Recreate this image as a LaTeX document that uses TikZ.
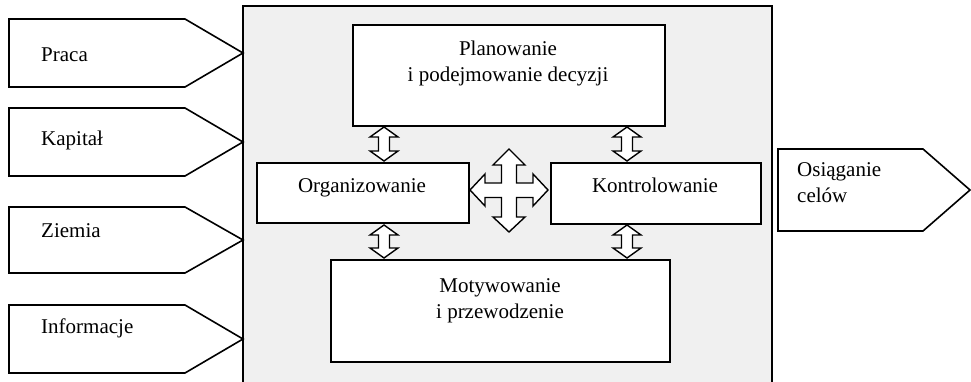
\documentclass[tikz,border=0pt]{standalone}
\usepackage{fontspec}
\setmainfont{Liberation Serif}
\definecolor{panel}{HTML}{F0F0F0}
\begin{document}
\begin{tikzpicture}[x=1pt,y=-1pt,
  line join=miter,
  box/.style={draw=black,line width=1.6pt,fill=white},
  lbl/.style={inner sep=0pt,font=\fontsize{21}{26}\selectfont},
  dbl/.style={draw=black,line width=1.4pt,fill=white,line join=miter}]
\useasboundingbox (0,0) rectangle (971,382);
% main panel
\fill[panel] (243,6) rectangle (772,382);
\draw[line width=1.6pt] (243,383) -- (243,6) -- (772,6) -- (772,383);
% input pentagons
\foreach \t/\b in {19/87,108/176,207/273,305/373}{
  \draw[box] (9,\t) -- (185,\t) -- (243,{(\t+\b)/2}) -- (185,\b) -- (9,\b) -- cycle;
}
\node[lbl,anchor=base west] (praca) at (41,62) {Praca};
\node[lbl,anchor=base west] (kapital) at (41,146) {Kapitał};
\node[lbl,anchor=base west] (ziemia) at (41,237) {Ziemia};
\node[lbl,anchor=base west] (info) at (41,333) {Informacje};
% output pentagon
\draw[box] (778,149) -- (923,149) -- (970,190) -- (923,231) -- (778,231) -- cycle;
\node[lbl,anchor=base west,align=left] (cel) at (797,203) {Osiąganie\\celów};
% inner boxes
\node[box,minimum width=312,minimum height=101,anchor=north west,inner sep=0pt] (plan) at (352,24) {};
\node[box,minimum width=212,minimum height=60,anchor=north west,inner sep=0pt] (org) at (256,162) {};
\node[box,minimum width=210,minimum height=61,anchor=north west,inner sep=0pt] (kon) at (550,162) {};
\node[box,minimum width=339,minimum height=102,anchor=north west,inner sep=0pt] (mot) at (330,259) {};
\node[lbl,anchor=base,align=center] (plant) at (508,82) {Planowanie\\i podejmowanie decyzji};
\node[lbl,anchor=base] (orgt) at (362,193) {Organizowanie};
\node[lbl,anchor=base] (kont) at (655,193) {Kontrolowanie};
\node[lbl,anchor=base,align=center] (mott) at (500,318) {Motywowanie\\i przewodzenie};
% vertical double arrows
\newcommand\vdarrow[3]{%
  \draw[dbl] (#1,#2) -- ++(14,10) -- ++(-8.5,0) -- (#1+5.5,#3-10) -- ++(8.5,0) -- (#1,#3)
     -- ++(-14,-10) -- ++(8.5,0) -- (#1-5.5,#2+10) -- ++(-8.5,0) -- cycle;}
\vdarrow{384}{127}{161}
\vdarrow{627}{127}{161}
\vdarrow{384}{225}{258}
\vdarrow{627}{225}{258}
% four-way arrow
\draw[dbl] (509,149) -- (525,165) -- (516.5,165) -- (516.5,183) -- (533,183) -- (533,174)
  -- (548,190) -- (533,206) -- (533,197.5) -- (516.5,197.5) -- (516.5,217) -- (525,217)
  -- (509,232) -- (493,217) -- (501.5,217) -- (501.5,197.5) -- (485,197.5) -- (485,206)
  -- (470,190) -- (485,174) -- (485,183) -- (501.5,183) -- (501.5,165) -- (493,165) -- cycle;
\end{tikzpicture}
\end{document}
